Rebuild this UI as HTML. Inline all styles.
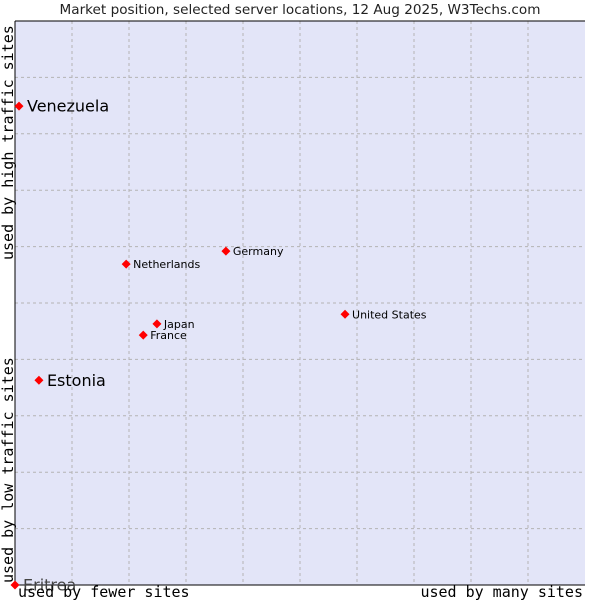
<!DOCTYPE html>
<html><head><meta charset="utf-8"><style>
body{margin:0;background:#fff;}
svg{display:block;font-family:"DejaVu Sans","Liberation Sans",sans-serif;}
</style></head><body>
<svg id="chart" width="600" height="600">
<text x="300" y="14" text-anchor="middle" font-size="13.6" fill="#222">Market position, selected server locations, 12 Aug 2025, W3Techs.com</text>
<rect x="15" y="21" width="570" height="564" fill="#e3e5f8"/>
<g id="grid"></g>
<line x1="15" y1="21" x2="15" y2="585" stroke="#000"/>
<line x1="15" y1="585" x2="585" y2="585" stroke="#000"/>
<line x1="15" y1="21" x2="585" y2="21" stroke="#000"/>
<g id="points"></g>
<text x="18" y="597" font-family="DejaVu Sans Mono,Liberation Mono,monospace" font-size="15" fill="#000">used by fewer sites</text>
<text x="583" y="597" text-anchor="end" font-family="DejaVu Sans Mono,Liberation Mono,monospace" font-size="15" fill="#000">used by many sites</text>
<text transform="translate(13,583) rotate(-90)" font-family="DejaVu Sans Mono,Liberation Mono,monospace" font-size="15" fill="#000">used by low traffic sites</text>
<text transform="translate(13,260) rotate(-90)" font-family="DejaVu Sans Mono,Liberation Mono,monospace" font-size="15" fill="#000">used by high traffic sites</text>
</svg>
<script>
const names = ["Venezuela","Estonia","Eritrea","Netherlands","Germany","Japan","France","United States"];
const xValues = [0.7,4.2,0,19.5,37.0,24.9,22.5,57.9];
const yValues = [84.9,36.3,0,56.9,59.2,46.3,44.3,48.0];
const bigLabel = [true,true,true,false,false,false,false,false];
const L=15,R=585,T=21,B=585;
const sx=v=>L+v/100*(R-L), sy=v=>B-v/100*(B-T);
const ns="http://www.w3.org/2000/svg";
const grid=document.getElementById('grid');
for(let i=1;i<10;i++){
  const v=document.createElementNS(ns,'line');
  v.setAttribute('x1',sx(i*10));v.setAttribute('x2',sx(i*10));v.setAttribute('y1',T);v.setAttribute('y2',B);
  v.setAttribute('stroke','#b4b4b4');v.setAttribute('stroke-dasharray','3,3');
  
  
  grid.appendChild(v);
  const h=document.createElementNS(ns,'line');
  h.setAttribute('y1',sy(i*10));h.setAttribute('y2',sy(i*10));h.setAttribute('x1',L);h.setAttribute('x2',R);
  h.setAttribute('stroke','#b4b4b4');h.setAttribute('stroke-dasharray','3,3');
  
  
  grid.appendChild(h);
}
const pts=document.getElementById('points');
names.forEach((n,i)=>{
  const x=sx(xValues[i]),y=sy(yValues[i]);
  const d=document.createElementNS(ns,'path');
  d.setAttribute('d',`M${x},${y-4.5}L${x+4.5},${y}L${x},${y+4.5}L${x-4.5},${y}Z`);
  d.setAttribute('fill','#f00');
  
  
  pts.appendChild(d);
  const t=document.createElementNS(ns,'text');
  t.setAttribute('x',x+(bigLabel[i]?8:7));
  t.setAttribute('y',y+(bigLabel[i]?5.5:4));
  t.setAttribute('font-size',bigLabel[i]?'16':'11');
  t.setAttribute('fill',n==='Eritrea'?'#444':'#000');
  t.textContent=n;
  
  
  pts.appendChild(t);
});
</script>
</body></html>
